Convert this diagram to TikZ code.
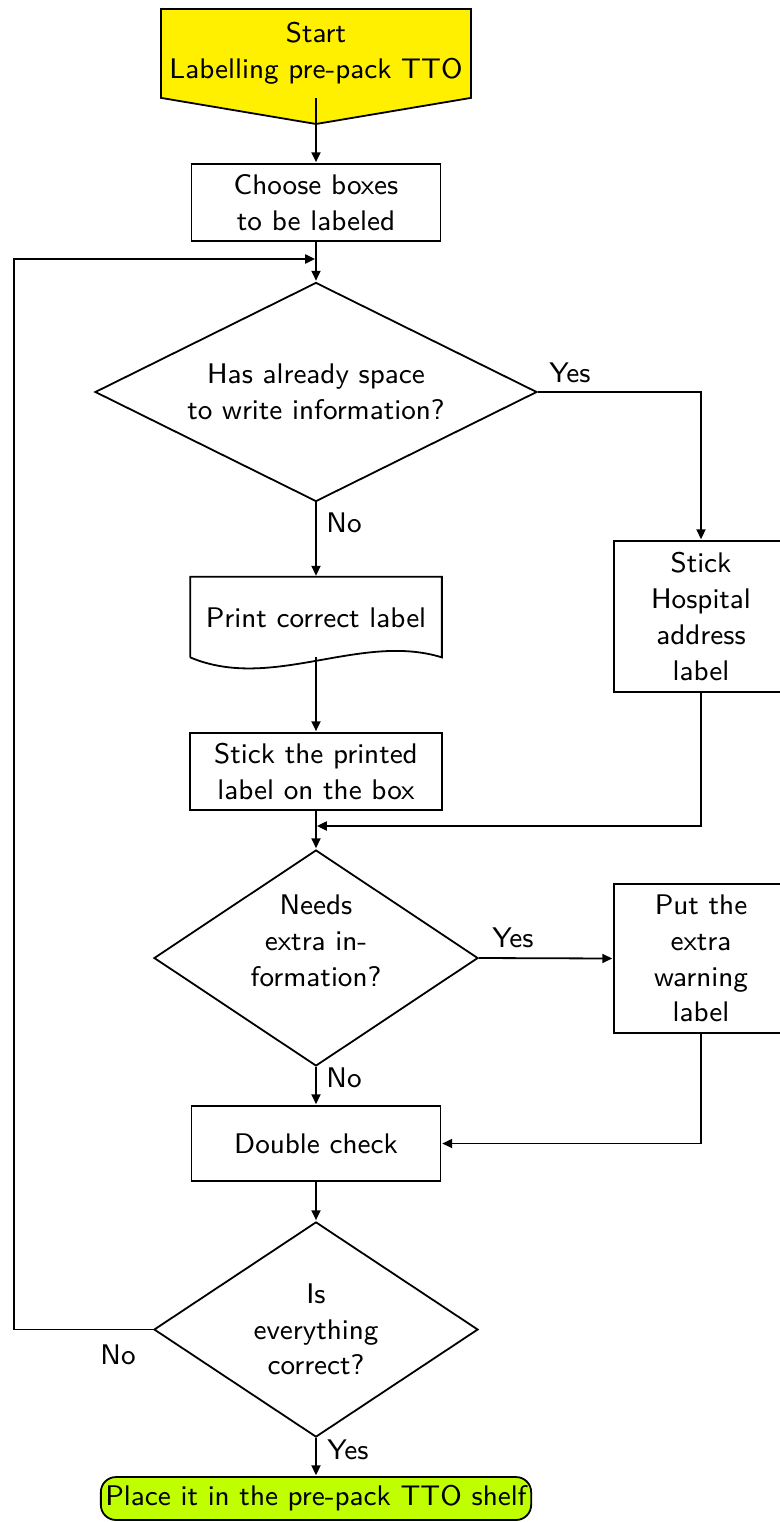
\documentclass[tikz,border=0pt]{standalone}
\usepackage{fontspec}
\usetikzlibrary{shapes.geometric,arrows.meta}
\definecolor{startcol}{RGB}{255,240,0}
\definecolor{endcol}{RGB}{191,255,0}
\begin{document}
\begin{tikzpicture}[x=0.33333pt,y=-0.33333pt,
  font=\sffamily\fontsize{9.45}{11.9}\selectfont,
  every path/.style={line width=0.6pt},
  arr/.style={-{Triangle[length=3.3pt,width=3pt]}, shorten >=0.3pt},
  mainbox/.style={draw, align=center, inner sep=0pt, minimum width=83pt, minimum height=25.7pt},
  sidebox/.style={draw, align=center, inner sep=0pt, minimum width=58pt, minimum height=50pt},
  decision/.style={draw, diamond, align=center, inner sep=0pt, aspect=1.5},
  lbl/.style={inner sep=0pt}
]
\useasboundingbox (0,0) rectangle (780,1522);

% start
\node[align=center, inner sep=0pt, minimum width=102.7pt, minimum height=29pt] (start) at (316,53.5) {};
\coordinate (starttip) at (316,124);
\path[fill=startcol, draw=black] (start.north west) -- (start.north east) -- (start.south east) -- (starttip) -- (start.south west) -- cycle;
\node[align=center, inner sep=0pt] (startt) at (start.center) {Start\\Labelling pre-pack TTO};

\node[mainbox] (choose) at (316,202.5) {Choose boxes\\to be labeled};
\coordinate (join1) at (316,259);

\node[decision, minimum width=147.3pt, minimum height=73pt, aspect=2] (d1) at (316,392) {Has already space\\to write information?};

% print (document shape)
\node[align=center, inner sep=0pt, minimum width=83.3pt, minimum height=26.3pt] (print) at (316,617) {};
\draw (print.south west) -- (print.north west) -- (print.north east) -- (print.south east)
  .. controls (360,632) and (272,692) .. (print.south west);
\node[inner sep=0pt] (printt) at (316,618) {Print correct label};
\coordinate (printb) at (316,657);

\node[mainbox, minimum width=84pt] (stickp) at (316,771.5) {Stick the printed\\label on the box};

\node[sidebox, minimum height=50.3pt] (hosp) at (701,616.5) {Stick\\Hospital\\address\\label};

\coordinate (join2) at (316,826);

\node[decision, minimum width=108pt, minimum height=72pt] (d2) at (316,958) {};
\node[align=center, inner sep=0pt] (d2t) at (316,941) {Needs\\extra in-\\formation?};

\node[sidebox, minimum height=49.7pt] (put) at (701,958.5) {Put the\\extra\\warning\\label};

\node[mainbox, minimum height=25pt] (dcheck) at (316,1143.5) {Double check};

\node[decision, minimum width=108pt, minimum height=71.7pt] (d3) at (316,1329.5) {Is\\everything\\correct?};

\node[draw, fill=endcol, rounded corners=5pt, inner xsep=1.5pt, inner ysep=0pt, minimum height=14.3pt] (final) at (316,1498.5) {Place it in the pre-pack TTO shelf};

% connectors
\draw[arr] (start.south) -- (choose.north);
\draw[arr] (choose.south) -- (d1.north);
\draw[arr] (d1.east) -| (hosp.north);
\draw[arr] (d1.south) -- (print.north);
\draw[arr] (printb) -- (stickp.north);
\draw[arr] (stickp.south) -- (d2.north);
\draw[arr] (hosp.south) |- (join2);
\draw[arr] (d2.east) -- (put.west);
\draw[arr] (d2.south) -- (dcheck.north);
\draw[arr] (put.south) |- (dcheck.east);
\draw[arr] (dcheck.south) -- (d3.north);
\draw[arr] (d3.south) -- (final.north);
\draw[arr] (d3.west) -- (14,1329.5) |- (join1);

% labels
\node[lbl] (l1) at (570,373) {Yes};
\node[lbl] (l2) at (344,523) {No};
\node[lbl] (l3) at (513,938) {Yes};
\node[lbl] (l4) at (344,1078) {No};
\node[lbl] (l5) at (118,1355) {No};
\node[lbl] (l6) at (348,1450) {Yes};
\end{tikzpicture}
\end{document}
